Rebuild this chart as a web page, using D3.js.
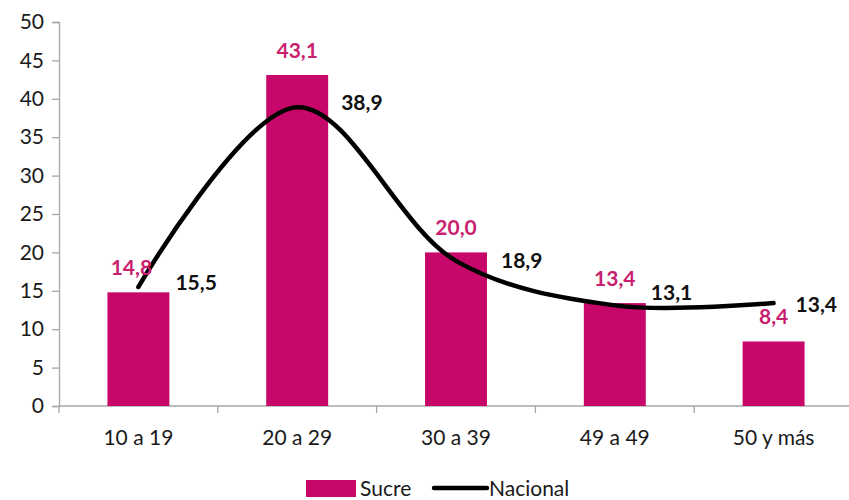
<!DOCTYPE html>
<html><head><meta charset="utf-8">
<script src="https://cdn.jsdelivr.net/npm/d3@7"></script>
<style>body{margin:0;background:#fff;}svg{display:block;font-family:Lato,"Open Sans",sans-serif;}</style>
</head><body>
<svg id="c" width="849" height="500"></svg>
<script>
const categories = ["10 a 19","20 a 29","30 a 39","49 a 49","50 y más"];
const sucre = [14.8, 43.1, 20.0, 13.4, 8.4];
const nacional = [15.5, 38.9, 18.9, 13.1, 13.4];
const yTicks = [0,5,10,15,20,25,30,35,40,45,50];
const fmt = v => v.toFixed(1).replace(".", ",");

const magenta = "#C8076A";
const svg = d3.select("#c");
const x = d3.scaleBand().domain(categories).range([59, 853]).paddingInner(0.61).paddingOuter(0.305);
const y = d3.scaleLinear().domain([0,50]).range([406, 22]);
const cx = d => x(d) + x.bandwidth()/2;

// y axis
const ya = svg.append("g").attr("transform","translate(59,0)")
  .call(d3.axisLeft(y).tickValues(yTicks).tickSize(7).tickPadding(8).tickFormat(d3.format("d")));
ya.selectAll("path,line").attr("stroke","#a6a6a6").attr("stroke-width",1.3);
ya.selectAll("text").attr("font-size",21).attr("fill","#1a1a1a").attr("font-family","Lato,sans-serif");

// x axis
const xs = d3.scalePoint().domain(d3.range(6)).range([59, 853]);
const xa = svg.append("g").attr("transform","translate(0,406)");
xa.append("line").attr("x1",59).attr("x2",849).attr("stroke","#a6a6a6").attr("stroke-width",1.3);
xa.selectAll("line.t").data(d3.range(6)).join("line").attr("class","t")
  .attr("x1",d=>xs(d)).attr("x2",d=>xs(d)).attr("y1",0).attr("y2",7).attr("stroke","#a6a6a6").attr("stroke-width",1.3);
xa.selectAll("text").data(categories).join("text")
  .attr("x",d=>cx(d)).attr("y",39).attr("text-anchor","middle").attr("font-size",21).attr("fill","#1a1a1a").text(d=>d);

// bars
svg.selectAll("rect.bar").data(categories).join("rect").attr("class","bar")
  .attr("x",d=>x(d)).attr("width",x.bandwidth())
  .attr("y",(d,i)=>y(sucre[i])).attr("height",(d,i)=>y(0)-y(sucre[i]))
  .attr("fill",magenta);

// line
const line = d3.line().x((d,i)=>cx(categories[i])).y(d=>y(d)).curve(d3.curveCatmullRom.alpha(0.5));
svg.append("path").datum(nacional).attr("d",line).attr("fill","none").attr("stroke","#000").attr("stroke-width",4.5).attr("stroke-linecap","round");

// sucre labels
const sucreDx = [-7,0,0,0,0];
svg.selectAll("text.sl").data(sucre).join("text").attr("class","sl")
  .attr("x",(d,i)=>cx(categories[i])+sucreDx[i]).attr("y",d=>y(d)-17)
  .attr("text-anchor","middle").attr("font-size",21).attr("font-weight","bold").attr("fill","#C81F6E").text(fmt);

// nacional labels
const nacDx = [37,44,45,36,22];
const nacDy = [3,3,7,-5,9];
svg.selectAll("text.nl").data(nacional).join("text").attr("class","nl")
  .attr("x",(d,i)=>cx(categories[i])+nacDx[i]).attr("y",(d,i)=>y(d)+nacDy[i])
  .attr("font-size",21).attr("font-weight","bold").attr("fill","#111").text(fmt);

// legend
const lg = svg.append("g");
lg.append("rect").attr("x",306).attr("y",480).attr("width",50).attr("height",17).attr("fill",magenta);
lg.append("text").attr("x",360).attr("y",496).attr("font-size",21).attr("fill","#1a1a1a").text("Sucre");
lg.append("line").attr("x1",434).attr("x2",487).attr("y1",488).attr("y2",488).attr("stroke","#000").attr("stroke-width",4.5).attr("stroke-linecap","round");
lg.append("text").attr("x",489).attr("y",496).attr("font-size",21).attr("fill","#1a1a1a").text("Nacional");
</script>
</body></html>
